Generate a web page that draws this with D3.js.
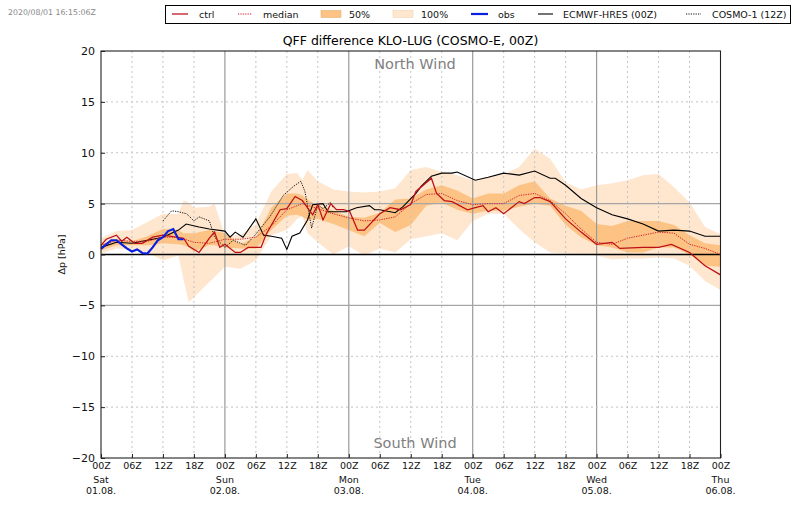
<!DOCTYPE html>
<html lang="en">
<head>
<meta charset="UTF-8">
<title>QFF difference KLO-LUG</title>
<script src="https://d3js.org/d3.v7.min.js"></script>
<style>
    html, body { margin: 0; background: #fff; }
    svg { display: block; font-family: "DejaVu Sans", sans-serif; }
    .axis path { display: none; }
    .axis line { stroke: #222; }
    .axis text { fill: #111; }
</style>
</head>
<body>
<svg id="chart" width="800" height="509"></svg>
<script>
// all hours count from 01.08. 00Z
var bandHours = [0,3,6,9,12,15,16,17,18,21,22,24,27,30,33,36,38,39,40,42,45,48,51,54,57,60,63,66,69,72,75,78,81,84,87,90,93,96,99,102,105,108,111,114,117,120];

var max100 = [1.6,2.3,2.4,3.2,4.0,4.0,5.3,5.1,4.6,4.7,5.0,1.9,1.9,3.0,6.2,7.9,8.0,7.3,8.3,7.2,6.4,6.2,6.1,6.2,6.5,8.3,8.6,8.1,7.8,7.3,7.6,7.9,8.6,10.4,9.4,7.1,6.4,6.8,7.0,7.3,7.8,7.9,6.6,5.1,2.7,2.0];
var min100 = [0.1,0.6,0.5,0.2,-0.6,-0.1,-2.5,-4.7,-4.2,-2.7,-2.2,-1.2,-1.4,-0.6,1.9,2.4,3.5,3.8,2.1,1.2,0.0,0.8,-0.1,0.6,0.2,1.5,1.8,2.1,1.4,3.3,4.0,4.0,2.5,1.2,0.2,0.1,0.0,-0.1,-0.5,-0.4,-0.4,-0.3,-0.4,-1.1,-2.6,-3.5];
var upper50 = [1.0,1.5,1.3,1.8,2.5,2.4,2.1,2.1,2.1,2.4,2.3,2.1,1.0,1.7,4.6,6.0,6.0,5.8,5.4,4.8,4.3,3.7,3.6,4.1,5.4,5.5,6.4,6.8,6.3,5.5,6.0,6.0,6.8,7.2,5.5,4.8,4.3,3.0,2.8,3.3,3.3,3.3,2.9,1.9,1.1,0.9];
var lower50 = [0.4,0.9,0.9,0.9,1.1,1.0,0.9,0.7,0.3,0.9,0.9,0.7,0.6,0.6,2.4,3.8,3.9,3.7,3.4,3.5,3.0,2.4,1.8,3.1,2.2,2.9,4.8,5.1,4.4,4.0,4.3,4.3,4.7,5.0,4.8,2.9,1.7,0.9,0.7,0.2,0.2,0.7,0.7,0.0,-1.1,-1.2];

var medianHours = d3.range(41).map(function(i){ return i * 3; });
var median = [0.9,1.4,1.3,1.3,1.7,1.7,1.2,1.1,1.5,1.5,1.7,2.8,4.4,5.0,4.5,4.0,3.6,3.3,3.4,3.7,5.0,5.9,6.0,5.3,4.9,5.0,5.0,5.8,6.0,5.3,4.0,2.5,1.2,1.0,1.6,1.9,2.2,2.1,1.0,0.6,0.0];

var ctrlHours = [0,1,3,4,5,6.5,8,10,12,16,17,19,21,22,23,24,26,27,28.5,31,32,34.7,36,37.6,39,41,42,43,44.5,45.6,47,48.2,49.7,51,54,56,58,60,61,64,65,66.5,68,71,72.5,74,75,76.5,78,81,82,84,85,87,90,93,96,99,100.5,105,108,110.5,114,117,120];
var ctrl = [0.9,1.5,1.9,1.3,1.7,1.1,1.1,1.7,1.9,1.6,0.8,0.2,1.6,2.2,0.7,1.0,0.2,0.2,0.7,0.7,2.0,4.4,4.5,5.7,5.3,3.9,4.9,3.4,5.0,4.4,4.4,4.2,2.4,2.4,4.0,4.6,4.4,4.9,6.2,7.5,6.0,5.3,5.2,4.4,4.6,4.8,4.2,4.6,4.0,5.2,5.0,5.6,5.6,5.2,3.5,2.2,1.0,1.2,0.6,0.7,0.7,1.0,0.2,-1.1,-2.0];

var ecmwfHours = [0,3,6,9,12,15,16.5,19,21,24,25,26,27.5,30,31.5,33,35,36,37,38.5,40,41,43,44,47.5,49.5,52,53,54,57,58.5,61,62,64,66,68,69,72.5,75,78,81,84,87,88,90,93,96,99,102,105,108,111,114,117,120];
var ecmwf = [0.7,1.2,1.1,1.4,1.7,2.4,3.0,2.7,2.5,2.3,1.7,2.2,1.7,3.5,1.9,1.8,1.6,0.5,1.8,2.1,3.4,4.9,5.0,4.2,4.2,4.6,4.8,4.4,4.4,4.1,4.7,6.0,6.7,7.7,8.0,8.0,8.1,7.3,7.6,8.0,7.8,8.2,7.5,7.5,6.8,5.5,4.6,3.9,3.5,3.0,2.3,2.4,2.3,1.8,1.8];

var obsHours = d3.range(17);
var obs = [0.55,1.0,1.4,1.4,1.0,0.6,0.3,0.5,0.15,0.1,0.7,1.4,1.7,2.3,2.5,1.5,1.5];

var cosmoHours = [12,13.7,15,16.6,18,19,21,22,24,25.6,28,30,32.7,35.3,37.3,38.7,39.5,40.8,42,43,44.4,45];
var cosmo = [3.3,4.3,4.2,4.0,3.3,3.7,3.3,1.7,0.7,1.4,0.9,2.0,3.7,5.8,6.7,7.2,6.2,2.6,4.9,4.5,5.1,4.6];

var yTicks = [-20,-15,-10,-5,0,5,10,15,20];
var xTickHours = d3.range(0, 121, 6);
var xTickLabels = ['00Z','06Z','12Z','18Z'];
var dayNames = ['Sat','Sun','Mon','Tue','Wed','Thu'];
var dayDates = ['01.08.','02.08.','03.08.','04.08.','05.08.','06.08.'];

var m = {left: 101, right: 720.5, top: 51, bottom: 458};

var x = d3.scaleLinear().domain([0, 120]).range([m.left, m.right]);
var y = d3.scaleLinear().domain([-20, 20]).range([m.bottom, m.top]);

var svg = d3.select('#chart');

function band(hi, lo, color){
    var area = d3.area()
        .x(function(d, i){ return x(bandHours[i]); })
        .y0(function(d, i){ return y(lo[i]); })
        .y1(function(d){ return y(d); });
    svg.append('path').attr('d', area(hi)).attr('fill', color);
}
band(max100, min100, '#fee6cf');
band(upper50, lower50, '#fdc384');

// grid goes over the bands, they show through in the reference
var grid = svg.append('g');
xTickHours.forEach(function(h){
    if (h === 0 || h === 120) return;
    var daily = h % 24 === 0;
    grid.append('line')
        .attr('x1', x(h)).attr('x2', x(h)).attr('y1', m.top).attr('y2', m.bottom)
        .attr('stroke', daily ? '#999' : '#c4c4c4')
        .attr('stroke-width', daily ? 1.2 : 1)
        .attr('stroke-dasharray', daily ? null : '2,3');
});
yTicks.forEach(function(v){
    if (v === 20 || v === -20 || v === 0) return;
    var solid = Math.abs(v) === 5;
    grid.append('line')
        .attr('x1', m.left).attr('x2', m.right).attr('y1', y(v)).attr('y2', y(v))
        .attr('stroke', solid ? '#a6a6a6' : '#c4c4c4')
        .attr('stroke-width', solid ? 1.2 : 1)
        .attr('stroke-dasharray', solid ? null : '2,3');
});

svg.append('line')
    .attr('x1', m.left).attr('x2', m.right).attr('y1', y(0)).attr('y2', y(0))
    .attr('stroke', '#000').attr('stroke-width', 1.4);

function drawLine(xs, ys, color, width, dash){
    var line = d3.line()
        .x(function(d, i){ return x(xs[i]); })
        .y(function(d){ return y(d); });
    svg.append('path').attr('d', line(ys))
        .attr('fill', 'none').attr('stroke', color)
        .attr('stroke-width', width).attr('stroke-dasharray', dash || null);
}
drawLine(ecmwfHours, ecmwf, '#000', 1.1);
drawLine(cosmoHours, cosmo, '#111', 1, '1.2,1.2');
drawLine(medianHours, median, '#d3262c', 1, '1.3,1.1');
drawLine(ctrlHours, ctrl, '#bd0f16', 1.25);
drawLine(obsHours, obs, '#0a1fe0', 2.2);

// frame and axes
svg.append('rect')
    .attr('x', m.left).attr('y', m.top)
    .attr('width', m.right - m.left).attr('height', m.bottom - m.top)
    .attr('fill', 'none').attr('stroke', '#222').attr('stroke-width', 1.1);

var yAxis = d3.axisLeft(y).tickValues(yTicks).tickSize(-4).tickPadding(6)
    .tickFormat(function(d){ return d < 0 ? '\u2212' + (-d) : d; });
svg.append('g').attr('class', 'axis')
    .attr('transform', 'translate(' + m.left + ',0)')
    .call(yAxis)
    .selectAll('text').attr('font-size', 11).attr('font-family', '"DejaVu Sans"');

var xAxis = d3.axisBottom(x).tickValues(xTickHours).tickSize(-4).tickPadding(4)
    .tickFormat(function(d){ return xTickLabels[(d / 6) % 4]; });
var xg = svg.append('g').attr('class', 'axis')
    .attr('transform', 'translate(0,' + m.bottom + ')')
    .call(xAxis);
xg.selectAll('text').attr('font-size', 9.5).attr('font-family', '"DejaVu Sans"');

// weekday and date under each midnight tick
dayNames.forEach(function(name, i){
    var px = x(i * 24);
    svg.append('text').attr('x', px).attr('y', 482.5).attr('text-anchor', 'middle')
        .attr('font-size', 9.5).attr('fill', '#111').text(name);
    svg.append('text').attr('x', px).attr('y', 494).attr('text-anchor', 'middle')
        .attr('font-size', 9.5).attr('fill', '#111').text(dayDates[i]);
});

svg.append('text').attr('x', 8).attr('y', 15)
    .attr('font-size', 7.8).attr('fill', '#888').text('2020/08/01 16:15:06Z');
svg.append('text').attr('x', 410.5).attr('y', 45).attr('text-anchor', 'middle')
    .attr('font-size', 12.5).attr('fill', '#000').text('QFF difference KLO-LUG (COSMO-E, 00Z)');
svg.append('text').attr('x', 415).attr('y', 69).attr('text-anchor', 'middle')
    .attr('font-size', 14.5).attr('fill', '#808080').text('North Wind');
svg.append('text').attr('x', 415).attr('y', 448).attr('text-anchor', 'middle')
    .attr('font-size', 14.5).attr('fill', '#808080').text('South Wind');
svg.append('text').attr('transform', 'translate(65,254.5) rotate(-90)')
    .attr('text-anchor', 'middle').attr('font-size', 9.5).attr('fill', '#111').text('\u0394p [hPa]');

// legend
svg.append('rect').attr('x', 165.5).attr('y', 5.5).attr('width', 625).attr('height', 18)
    .attr('fill', '#fff').attr('stroke', '#000').attr('stroke-width', 1);

function legendText(px, label){
    svg.append('text').attr('x', px).attr('y', 18).attr('font-size', 9.5).attr('fill', '#111').text(label);
}
function legendLine(x1, x2, color, width, dash){
    svg.append('line').attr('x1', x1).attr('x2', x2).attr('y1', 14).attr('y2', 14)
        .attr('stroke', color).attr('stroke-width', width).attr('stroke-dasharray', dash || null);
}
function legendPatch(px, color, edge){
    svg.append('rect').attr('x', px).attr('y', 10.5).attr('width', 20).attr('height', 7)
        .attr('fill', color).attr('stroke', edge).attr('stroke-width', 0.6);
}
legendLine(172, 188, '#bd0f16', 1.25);
legendText(199, 'ctrl');
legendLine(238, 252, '#d3262c', 1, '1.3,1.1');
legendText(263, 'median');
legendPatch(321, '#fdc384', '#e8b070');
legendText(349, '50%');
legendPatch(393, '#fee6cf', '#f2d4b4');
legendText(421, '100%');
legendLine(471, 488, '#0a1fe0', 2.2);
legendText(498, 'obs');
legendLine(538, 553, '#000', 1.1);
legendText(563, 'ECMWF-HRES (00Z)');
legendLine(686, 701, '#111', 1, '1.2,1.2');
legendText(712, 'COSMO-1 (12Z)');
</script>
</body>
</html>
